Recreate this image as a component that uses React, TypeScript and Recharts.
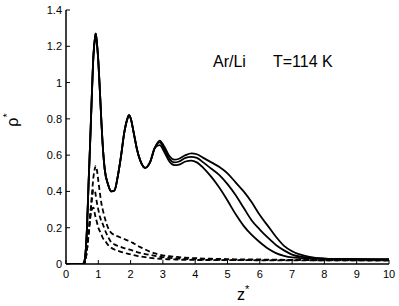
import React from 'react';
import { LineChart, Line, XAxis, YAxis } from 'recharts';

const zValues = [0, 0.5, 0.55, 0.6, 0.65, 0.7, 0.75, 0.8, 0.85, 0.9, 0.92, 0.95, 1.0, 1.05, 1.1, 1.15, 1.2, 1.3, 1.4, 1.5, 1.6, 1.7, 1.8, 1.9, 1.95, 2.0, 2.1, 2.2, 2.3, 2.45, 2.6, 2.75, 2.9, 3.05, 3.2, 3.35, 3.5, 3.7, 3.88, 4.05, 4.25, 4.5, 4.75, 5.0, 5.25, 5.5, 5.75, 6.0, 6.25, 6.5, 6.75, 7.0, 7.5, 8.0, 9.0, 10.0];

// shared part of the three solid profiles (z = 0 .. 2.75)
const solidCommon = [0, 0, 0.005, 0.05, 0.2, 0.45, 0.68, 0.93, 1.15, 1.25, 1.27, 1.23, 1.12, 0.95, 0.77, 0.62, 0.52, 0.44, 0.4, 0.405, 0.48, 0.59, 0.72, 0.8, 0.82, 0.805, 0.72, 0.63, 0.57, 0.53, 0.56, 0.64];
// z = 2.9 .. 10
const solidOuterTail = [0.68, 0.645, 0.595, 0.575, 0.58, 0.6, 0.61, 0.605, 0.585, 0.56, 0.535, 0.5, 0.45, 0.4, 0.34, 0.27, 0.21, 0.15, 0.1, 0.07, 0.04, 0.03, 0.027, 0.025];
const solidMidTail = [0.67, 0.63, 0.58, 0.56, 0.565, 0.585, 0.59, 0.585, 0.56, 0.525, 0.49, 0.44, 0.38, 0.31, 0.24, 0.19, 0.145, 0.105, 0.075, 0.052, 0.035, 0.03, 0.027, 0.025];
const solidInnerTail = [0.655, 0.615, 0.565, 0.545, 0.548, 0.565, 0.57, 0.56, 0.53, 0.48, 0.42, 0.35, 0.275, 0.21, 0.16, 0.12, 0.085, 0.06, 0.045, 0.036, 0.03, 0.028, 0.026, 0.025];

const dashA = [0, 0, 0, 0.02, 0.08, 0.17, 0.27, 0.38, 0.48, 0.53, 0.54, 0.525, 0.46, 0.39, 0.33, 0.29, 0.255, 0.2, 0.172, 0.16, 0.152, 0.145, 0.138, 0.13, 0.127, 0.123, 0.113, 0.103, 0.093, 0.08, 0.068, 0.058, 0.051, 0.046, 0.043, 0.04, 0.038, 0.035, 0.033, 0.032, 0.03, 0.029, 0.028, 0.027, 0.026, 0.026, 0.025, 0.025, 0.024, 0.024, 0.023, 0.023, 0.022, 0.022, 0.021, 0.02];
const dashB = [0, 0, 0, 0.02, 0.08, 0.17, 0.27, 0.35, 0.41, 0.4, 0.38, 0.345, 0.3, 0.26, 0.235, 0.215, 0.19, 0.15, 0.12, 0.108, 0.1, 0.094, 0.088, 0.083, 0.08, 0.078, 0.072, 0.066, 0.061, 0.055, 0.05, 0.045, 0.04, 0.037, 0.034, 0.032, 0.03, 0.028, 0.026, 0.025, 0.024, 0.024, 0.023, 0.023, 0.022, 0.022, 0.022, 0.022, 0.021, 0.021, 0.021, 0.021, 0.021, 0.02, 0.02, 0.02];
const dashC = [0, 0, 0, 0.02, 0.08, 0.16, 0.25, 0.3, 0.31, 0.27, 0.255, 0.235, 0.2, 0.18, 0.16, 0.14, 0.13, 0.105, 0.09, 0.08, 0.073, 0.067, 0.062, 0.057, 0.055, 0.053, 0.049, 0.045, 0.042, 0.038, 0.034, 0.031, 0.029, 0.027, 0.026, 0.025, 0.024, 0.023, 0.023, 0.022, 0.022, 0.022, 0.021, 0.021, 0.021, 0.021, 0.021, 0.02, 0.02, 0.02, 0.02, 0.02, 0.02, 0.02, 0.02, 0.02];

const xTicks = [0, 1, 2, 3, 4, 5, 6, 7, 8, 9, 10];
const yTicks = [0, 0.2, 0.4, 0.6, 0.8, 1, 1.2, 1.4];

const solidOuter = solidCommon.concat(solidOuterTail);
const solidMid = solidCommon.concat(solidMidTail);
const solidInner = solidCommon.concat(solidInnerTail);

const data = zValues.map((z, i) => ({
  z,
  s1: solidOuter[i],
  s2: solidMid[i],
  s3: solidInner[i],
  d1: dashA[i],
  d2: dashB[i],
  d3: dashC[i],
}));

const FONT = '"Liberation Sans", Arial, Helvetica, sans-serif';
const TICK_LEN = 4;

const BottomTick = (props: any) => {
  const { x, y, payload } = props;
  return (
    <g>
      <line x1={x} y1={y} x2={x} y2={y - TICK_LEN} stroke="#000" strokeWidth={1} />
      <text x={x} y={y + 14} textAnchor="middle" fontSize={11} fontFamily={FONT} fill="#000">
        {String(payload.value)}
      </text>
    </g>
  );
};

const TopTick = (props: any) => {
  const { x, y } = props;
  return <line x1={x} y1={y} x2={x} y2={y + TICK_LEN} stroke="#000" strokeWidth={1} />;
};

const LeftTick = (props: any) => {
  const { x, y, payload } = props;
  return (
    <g>
      <line x1={x} y1={y} x2={x + TICK_LEN} y2={y} stroke="#000" strokeWidth={1} />
      <text x={x - 4} y={y + 4} textAnchor="end" fontSize={11} fontFamily={FONT} fill="#000">
        {String(payload.value)}
      </text>
    </g>
  );
};

const RightTick = (props: any) => {
  const { x, y } = props;
  return <line x1={x} y1={y} x2={x - TICK_LEN} y2={y} stroke="#000" strokeWidth={1} />;
};

const axisLine = { stroke: '#000', strokeWidth: 1.5 };

export default function App() {
  return (
    <div style={{ position: 'absolute', left: 0, top: 0, width: 399, height: 306, background: '#fff' }}>
      <LineChart width={399} height={306} data={data} margin={{ top: 10, right: 10, bottom: 0, left: 0 }}>
        <XAxis xAxisId="b" dataKey="z" type="number" domain={[0, 10]} ticks={xTicks} interval={0}
          orientation="bottom" height={42} tickSize={0} tickMargin={0} axisLine={axisLine} tickLine={false}
          tick={<BottomTick />} allowDataOverflow />
        <XAxis xAxisId="t" dataKey="z" type="number" domain={[0, 10]} ticks={xTicks} interval={0}
          orientation="top" height={0} tickSize={0} tickMargin={0} axisLine={axisLine} tickLine={false}
          tick={<TopTick />} allowDataOverflow />
        <YAxis yAxisId="l" type="number" domain={[0, 1.4]} ticks={yTicks} interval={0}
          orientation="left" width={66} tickSize={0} tickMargin={0} axisLine={axisLine} tickLine={false}
          tick={<LeftTick />} allowDataOverflow />
        <YAxis yAxisId="r" type="number" domain={[0, 1.4]} ticks={yTicks} interval={0}
          orientation="right" width={0} tickSize={0} tickMargin={0} axisLine={axisLine} tickLine={false}
          tick={<RightTick />} allowDataOverflow />
        <Line xAxisId="b" yAxisId="l" type="monotone" dataKey="d1" stroke="#000" strokeWidth={1.8} strokeDasharray="5 3" dot={false} isAnimationActive={false} />
        <Line xAxisId="b" yAxisId="l" type="monotone" dataKey="d2" stroke="#000" strokeWidth={1.8} strokeDasharray="5 3" dot={false} isAnimationActive={false} />
        <Line xAxisId="b" yAxisId="l" type="monotone" dataKey="d3" stroke="#000" strokeWidth={1.8} strokeDasharray="5 3" dot={false} isAnimationActive={false} />
        <Line xAxisId="b" yAxisId="l" type="monotone" dataKey="s1" stroke="#000" strokeWidth={1.8} dot={false} isAnimationActive={false} />
        <Line xAxisId="b" yAxisId="l" type="monotone" dataKey="s2" stroke="#000" strokeWidth={1.8} dot={false} isAnimationActive={false} />
        <Line xAxisId="b" yAxisId="l" type="monotone" dataKey="s3" stroke="#000" strokeWidth={1.8} dot={false} isAnimationActive={false} />
      </LineChart>
      <svg width={399} height={306} style={{ position: 'absolute', left: 0, top: 0, pointerEvents: 'none' }}>
        <text x={213} y={67} fontSize={16} fontFamily={FONT} fill="#000">Ar/Li</text>
        <text x={273} y={67} fontSize={16} fontFamily={FONT} fill="#000">T=114 K</text>
        <text x={237} y={300} fontSize={16} fontFamily={FONT} fill="#000">
          z<tspan fontSize={11} dy={-7}>*</tspan>
        </text>
        <text x={18} y={120} fontSize={16} fontFamily={FONT} fill="#000" textAnchor="middle" transform="rotate(-90 18 120)">
          ρ<tspan fontSize={11} dy={-7}>*</tspan>
        </text>
      </svg>
    </div>
  );
}
